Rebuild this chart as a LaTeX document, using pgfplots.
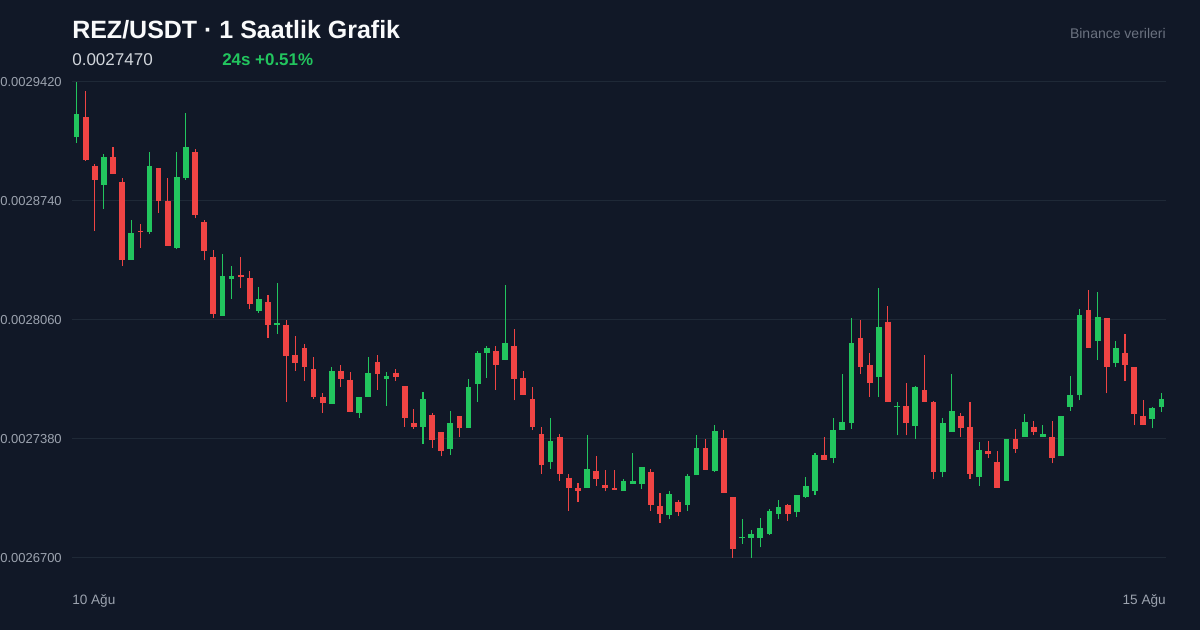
\documentclass[border=0pt]{standalone}
\usepackage{pgfplots}
\usepackage{pgfplotstable}
\usepackage{fontspec}
\setmainfont{Liberation Sans}
\pgfplotsset{compat=1.18}

\definecolor{bg}{HTML}{111827}
\definecolor{gridc}{HTML}{1F2937}
\definecolor{upc}{HTML}{22C55E}
\definecolor{downc}{HTML}{EF4444}
\definecolor{titlec}{HTML}{F9FAFB}
\definecolor{subc}{HTML}{D1D5DB}
\definecolor{labelc}{HTML}{9CA3AF}
\definecolor{srcc}{HTML}{6B7280}

% hourly candles, i = hour index from 10 Aug; o h l c in USDT
\pgfplotstableread{
i o h l c
0 0.0029104 0.0029420 0.0029071 0.0029237
3 0.0028833 0.0029009 0.0028693 0.0028990
6 0.0028403 0.0028630 0.0028403 0.0028559
8 0.0028563 0.0029018 0.0028551 0.0028940
11 0.0028470 0.0029018 0.0028464 0.0028879
12 0.0028871 0.0029241 0.0028862 0.0029049
16 0.0028083 0.0028439 0.0028083 0.0028310
17 0.0028293 0.0028369 0.0028182 0.0028310
20 0.0028113 0.0028250 0.0028102 0.0028180
22 0.0028034 0.0028270 0.0027982 0.0028040
28 0.0027582 0.0027790 0.0027582 0.0027769
31 0.0027530 0.0027620 0.0027502 0.0027620
32 0.0027622 0.0027850 0.0027622 0.0027759
34 0.0027723 0.0027761 0.0027570 0.0027738
38 0.0027451 0.0027650 0.0027351 0.0027609
41 0.0027323 0.0027540 0.0027290 0.0027470
43 0.0027443 0.0027723 0.0027443 0.0027679
44 0.0027693 0.0027881 0.0027591 0.0027870
45 0.0027873 0.0027911 0.0027730 0.0027898
47 0.0027831 0.0028260 0.0027831 0.0027929
52 0.0027250 0.0027500 0.0027210 0.0027369
56 0.0027102 0.0027401 0.0027102 0.0027209
60 0.0027083 0.0027150 0.0027083 0.0027140
61 0.0027123 0.0027300 0.0027123 0.0027140
62 0.0027123 0.0027218 0.0027093 0.0027218
65 0.0026944 0.0027081 0.0026921 0.0027067
67 0.0027003 0.0027180 0.0026970 0.0027169
68 0.0027173 0.0027401 0.0027173 0.0027327
70 0.0027199 0.0027460 0.0027193 0.0027427
73 0.0026813 0.0026921 0.0026782 0.0026822
74 0.0026814 0.0026860 0.0026700 0.0026837
75 0.0026813 0.0026930 0.0026761 0.0026870
76 0.0026839 0.0026980 0.0026831 0.0026969
77 0.0026953 0.0027031 0.0026921 0.0026990
79 0.0026961 0.0027060 0.0026933 0.0027060
80 0.0027050 0.0027162 0.0027040 0.0027110
81 0.0027081 0.0027300 0.0027062 0.0027290
83 0.0027271 0.0027500 0.0027241 0.0027430
84 0.0027431 0.0027751 0.0027431 0.0027479
85 0.0027471 0.0028071 0.0027439 0.0027929
88 0.0027733 0.0028243 0.0027620 0.0028020
90 0.0027560 0.0027591 0.0027401 0.0027569
92 0.0027453 0.0027681 0.0027382 0.0027679
95 0.0027191 0.0027500 0.0027161 0.0027470
96 0.0027422 0.0027751 0.0027422 0.0027538
99 0.0027163 0.0027361 0.0027111 0.0027319
102 0.0027142 0.0027380 0.0027142 0.0027380
104 0.0027393 0.0027521 0.0027393 0.0027479
106 0.0027391 0.0027460 0.0027391 0.0027409
108 0.0027281 0.0027510 0.0027281 0.0027510
109 0.0027563 0.0027738 0.0027542 0.0027630
110 0.0027631 0.0028121 0.0027601 0.0028089
112 0.0027942 0.0028220 0.0027831 0.0028079
114 0.0027814 0.0027940 0.0027791 0.0027900
118 0.0027493 0.0027563 0.0027441 0.0027559
119 0.0027563 0.0027643 0.0027533 0.0027609
}\up

\pgfplotstableread{
i o h l c
1 0.0029218 0.0029370 0.0028970 0.0028973
2 0.0028940 0.0028950 0.0028570 0.0028862
4 0.0028990 0.0029050 0.0028893 0.0028893
5 0.0028849 0.0028870 0.0028370 0.0028403
7 0.0028569 0.0028609 0.0028471 0.0028560
9 0.0028929 0.0028929 0.0028673 0.0028742
10 0.0028740 0.0028870 0.0028483 0.0028483
13 0.0029018 0.0029039 0.0028641 0.0028662
14 0.0028620 0.0028630 0.0028401 0.0028453
15 0.0028420 0.0028460 0.0028073 0.0028093
18 0.0028315 0.0028420 0.0028241 0.0028306
19 0.0028300 0.0028340 0.0028121 0.0028153
21 0.0028161 0.0028201 0.0027959 0.0028033
23 0.0028030 0.0028060 0.0027593 0.0027854
24 0.0027860 0.0027970 0.0027770 0.0027813
25 0.0027900 0.0027921 0.0027711 0.0027793
26 0.0027780 0.0027849 0.0027610 0.0027620
27 0.0027620 0.0027641 0.0027530 0.0027584
29 0.0027769 0.0027801 0.0027679 0.0027723
30 0.0027719 0.0027761 0.0027533 0.0027533
33 0.0027820 0.0027860 0.0027662 0.0027753
35 0.0027759 0.0027780 0.0027711 0.0027733
36 0.0027681 0.0027683 0.0027450 0.0027502
37 0.0027471 0.0027551 0.0027439 0.0027450
39 0.0027519 0.0027530 0.0027330 0.0027373
40 0.0027418 0.0027418 0.0027281 0.0027313
42 0.0027510 0.0027511 0.0027391 0.0027441
46 0.0027881 0.0027911 0.0027662 0.0027803
48 0.0027910 0.0028010 0.0027601 0.0027723
49 0.0027729 0.0027770 0.0027631 0.0027631
50 0.0027609 0.0027679 0.0027431 0.0027450
51 0.0027409 0.0027449 0.0027182 0.0027231
53 0.0027390 0.0027410 0.0027140 0.0027182
54 0.0027159 0.0027178 0.0026970 0.0027102
55 0.0027098 0.0027130 0.0027022 0.0027081
57 0.0027199 0.0027281 0.0027111 0.0027151
58 0.0027119 0.0027200 0.0027081 0.0027102
59 0.0027098 0.0027201 0.0027090 0.0027090
63 0.0027190 0.0027209 0.0026970 0.0027003
64 0.0026997 0.0027070 0.0026902 0.0026953
66 0.0027018 0.0027031 0.0026942 0.0026963
69 0.0027327 0.0027380 0.0027203 0.0027203
71 0.0027387 0.0027430 0.0027071 0.0027071
72 0.0027049 0.0027049 0.0026700 0.0026751
78 0.0027000 0.0027011 0.0026910 0.0026953
82 0.0027289 0.0027391 0.0027262 0.0027262
86 0.0027959 0.0028060 0.0027751 0.0027791
87 0.0027801 0.0027871 0.0027620 0.0027702
89 0.0028050 0.0028140 0.0027591 0.0027591
91 0.0027569 0.0027702 0.0027401 0.0027473
93 0.0027660 0.0027860 0.0027591 0.0027591
94 0.0027590 0.0027599 0.0027151 0.0027191
97 0.0027510 0.0027530 0.0027391 0.0027443
98 0.0027450 0.0027591 0.0027151 0.0027182
100 0.0027310 0.0027369 0.0027271 0.0027293
101 0.0027249 0.0027310 0.0027102 0.0027102
103 0.0027380 0.0027439 0.0027300 0.0027323
105 0.0027450 0.0027481 0.0027401 0.0027420
107 0.0027390 0.0027481 0.0027241 0.0027273
111 0.0028119 0.0028231 0.0027902 0.0027902
113 0.0028070 0.0028070 0.0027641 0.0027793
115 0.0027870 0.0027980 0.0027711 0.0027803
116 0.0027790 0.0027790 0.0027462 0.0027523
117 0.0027511 0.0027603 0.0027462 0.0027462
}\down

\begin{document}
\begin{tikzpicture}
\fill[bg] (0,0) rectangle (900pt,472.5pt);
\useasboundingbox (0,0) rectangle (900pt,472.5pt);

\node[anchor=base west, inner sep=0pt, text=titlec, font=\fontsize{18.75}{20}\selectfont\bfseries]
  at (54pt,443.8pt) {REZ/USDT · 1 Saatlik Grafik};
\node[anchor=base west, inner sep=0pt, text=subc, font=\fontsize{12.8}{14}\selectfont]
  at (54pt,423pt) {0.0027470};
\node[anchor=base west, inner sep=0pt, text=upc, font=\fontsize{12.7}{14}\selectfont\bfseries]
  at (166.5pt,423pt) {24s +0.51\%};
\node[anchor=base east, inner sep=0pt, text=srcc, font=\fontsize{10.5}{12}\selectfont]
  at (874.5pt,443.8pt) {Binance verileri};
\node[anchor=base west, inner sep=0pt, text=labelc, font=\fontsize{10.2}{12}\selectfont]
  at (54pt,19.3pt) {10 Ağu};
\node[anchor=base east, inner sep=0pt, text=labelc, font=\fontsize{10.2}{12}\selectfont]
  at (874.5pt,19.3pt) {15 Ağu};

\begin{axis}[
  at={(54pt,54pt)}, anchor=south west,
  scale only axis, width=820.5pt, height=357pt,
  xmin=-0.5, xmax=119.5,
  ymin=0.00267, ymax=0.002942,
  clip=false,
  axis line style={draw=none},
  major tick length=0pt,
  xtick=\empty,
  ytick={0.00267,0.002738,0.002806,0.002874,0.002942},
  yticklabels={0.0026700,0.0027380,0.0028060,0.0028740,0.0029420},
  scaled y ticks=false,
  ymajorgrids,
  grid style={gridc, line width=0.75pt},
  yticklabel style={text=labelc, font=\fontsize{9.75}{11}\selectfont,
    inner sep=0pt, xshift=-7.5pt},
]
% wicks
\addplot[draw=upc, line width=0.8pt, quiver={u=0, v=\thisrow{h}-\thisrow{l}}]
  table[x=i, y=l] {\up};
\addplot[draw=downc, line width=0.8pt, quiver={u=0, v=\thisrow{h}-\thisrow{l}}]
  table[x=i, y=l] {\down};
% bodies
\addplot[draw=upc, line width=4.3pt, quiver={u=0, v=\thisrow{c}-\thisrow{o}}]
  table[x=i, y=o] {\up};
\addplot[draw=downc, line width=4.3pt, quiver={u=0, v=\thisrow{c}-\thisrow{o}}]
  table[x=i, y=o] {\down};
\end{axis}
\end{tikzpicture}
\end{document}
